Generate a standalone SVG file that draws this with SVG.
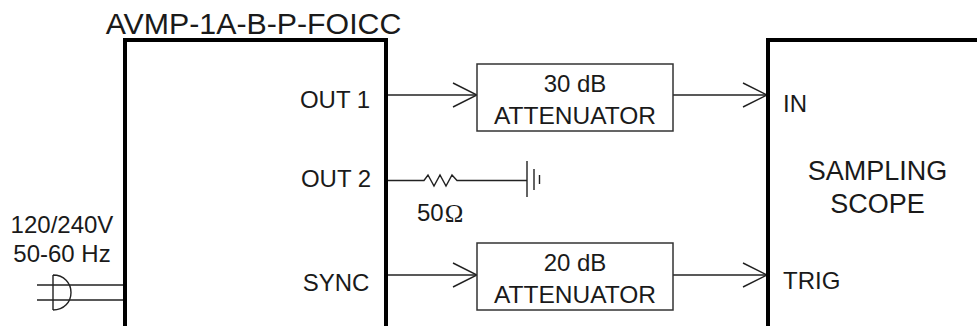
<svg xmlns="http://www.w3.org/2000/svg" width="977" height="326" viewBox="0 0 977 326">
<style>
text{font-family:"Liberation Sans",Arial,sans-serif;font-size:24px;fill:#1a1a1a}
.m{text-anchor:middle}
.a{font-size:24.500px}
.thick{fill:none;stroke:#000;stroke-width:4}
.box{fill:#fff;stroke:#333;stroke-width:1.5}
.w{fill:none;stroke:#222;stroke-width:1.4}
</style>
<defs>
<marker id="arr" markerUnits="userSpaceOnUse" markerWidth="26" markerHeight="28" refX="25" refY="14" orient="auto"><path d="M1 2L25 14L1 26" fill="none" stroke="#222" stroke-width="1.4"/></marker>
</defs>
<g id="connectors">
<path class="w" d="M387 95H477" marker-end="url(#arr)"/>
<path class="w" d="M673 95H767" marker-end="url(#arr)"/>
<path class="w" d="M387 275H477" marker-end="url(#arr)"/>
<path class="w" d="M673 275H767" marker-end="url(#arr)"/>
<path class="w" d="M387 180.500H424L428 175L434 186L440 175L446 186L452 175L457 180.500H527"/>
<path class="w" d="M527 161V197M534 169V190M539.500 175V184"/>
<path class="w" d="M37 285H125M37 300H125"/>
<path class="w" d="M53 275V310M53 275C64 275 71 283 71 292.500C71 302 64 310 53 310"/>
</g>
<g id="amp">
<path class="thick" d="M125 326V40H386V326"/>
<text class="m" x="253.500" y="34" style="font-size:30.300px">AVMP-1A-B-P-FOICC</text>
<text class="m" x="335" y="108">OUT 1</text>
<text class="m" x="336" y="187">OUT 2</text>
<text class="m" x="336" y="291">SYNC</text>
</g>
<g id="att30">
<rect class="box" x="477" y="64" width="196" height="67"/>
<text class="m" x="575" y="92">30 dB</text>
<text class="m a" x="575" y="124">ATTENUATOR</text>
</g>
<g id="att20">
<rect class="box" x="477" y="243" width="196" height="67"/>
<text class="m" x="575" y="271">20 dB</text>
<text class="m a" x="575" y="303">ATTENUATOR</text>
</g>
<g id="scope">
<path class="thick" d="M768 326V40H977"/>
<text x="783" y="112">IN</text>
<text class="m" x="877.500" y="180" style="font-size:27px">SAMPLING</text>
<text class="m" x="877.500" y="213" style="font-size:27px">SCOPE</text>
<text x="783" y="289">TRIG</text>
</g>
<g id="power">
<text class="m" x="62" y="233">120/240V</text>
<text class="m" x="62" y="262">50-60 Hz</text>
</g>
<g id="r50">
<text x="417" y="221">50<tspan style="font-family:'Liberation Serif',serif;font-size:25px" dx="1" dy="1">Ω</tspan></text>
</g>
</svg>
